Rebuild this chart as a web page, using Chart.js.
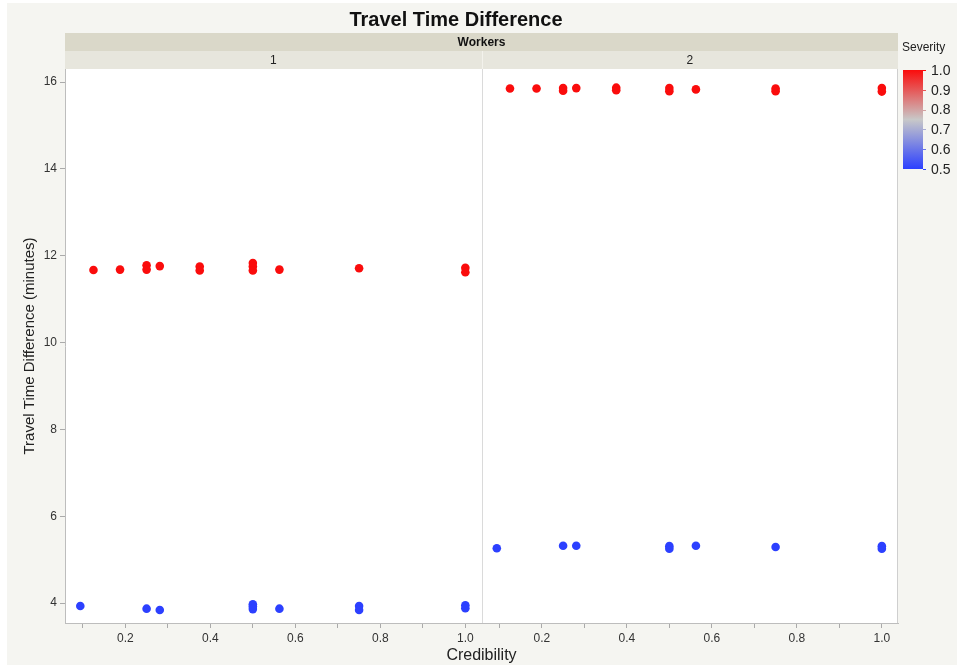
<!DOCTYPE html>
<html>
<head>
<meta charset="utf-8">
<title>Travel Time Difference</title>
<script src="https://cdn.jsdelivr.net/npm/chart.js@4/dist/chart.umd.min.js"></script>
<style>
  html, body { margin: 0; padding: 0; background: #ffffff; }
  #frame { position: absolute; left: 7px; top: 3px; width: 950px; height: 662px; background: #f5f5f1; }
  #wrap { position: absolute; left: 0; top: 0; width: 957px; height: 665px; }
</style>
</head>
<body>
<div id="frame"></div>
<div id="wrap"><canvas id="myChart" width="957" height="665"></canvas></div>
<script>
// facet labels
var facetTitle = "Workers";
var facetNames = ["1", "2"];

// severity of each group (colour scale 0.5 .. 1.0)
var highSeverity = 1.0;
var lowSeverity = 0.5;

// Workers = 1
var w1HighX = [0.125, 0.1875, 0.25, 0.25, 0.281, 0.375, 0.375, 0.5, 0.5, 0.5, 0.5625, 0.75, 1.0, 1.0];
var w1HighY = [11.67, 11.68, 11.78, 11.68, 11.76, 11.75, 11.66, 11.83, 11.75, 11.66, 11.68, 11.71, 11.72, 11.62];
var w1LowX = [0.094, 0.25, 0.281, 0.5, 0.5, 0.5, 0.5625, 0.75, 0.75, 1.0, 1.0];
var w1LowY = [3.93, 3.87, 3.84, 3.97, 3.92, 3.86, 3.87, 3.93, 3.84, 3.95, 3.88];

// Workers = 2
var w2HighX = [0.125, 0.1875, 0.25, 0.25, 0.281, 0.375, 0.375, 0.5, 0.5, 0.5625, 0.75, 0.75, 1.0, 1.0];
var w2HighY = [15.85, 15.85, 15.86, 15.80, 15.86, 15.87, 15.81, 15.86, 15.79, 15.83, 15.85, 15.79, 15.86, 15.78];
var w2LowX = [0.094, 0.25, 0.281, 0.5, 0.5, 0.5625, 0.75, 1.0, 1.0];
var w2LowY = [5.26, 5.32, 5.32, 5.31, 5.25, 5.32, 5.29, 5.31, 5.25];

// ticks
var xTickValues = [0.1, 0.2, 0.3, 0.4, 0.5, 0.6, 0.7, 0.8, 0.9, 1.0];
var xTickLabels = ["", "0.2", "", "0.4", "", "0.6", "", "0.8", "", "1.0"];
var yTickValues = [4, 6, 8, 10, 12, 14, 16];
var legendTicks = [0.5, 0.6, 0.7, 0.8, 0.9, 1.0];

var FONT = "'Liberation Sans', Arial, Helvetica, sans-serif";
Chart.defaults.font.family = FONT;

// blue -> grey -> red colour scale
function sevColor(s) {
  var blue = [44, 64, 255], grey = [200, 200, 200], red = [250, 12, 12];
  var t = (s - 0.5) / 0.5;
  var a, b, f;
  if (t < 0.5) { a = blue; b = grey; f = t / 0.5; }
  else { a = grey; b = red; f = (t - 0.5) / 0.5; }
  var c = a.map(function (v, i) { return Math.round(v + (b[i] - v) * f); });
  return "rgb(" + c.join(",") + ")";
}

function toPoints(xs, ys) {
  return xs.map(function (x, i) { return { x: x, y: ys[i] }; });
}

function makeSet(label, axis, xs, ys, sev) {
  return {
    label: label,
    xAxisID: axis,
    yAxisID: "y",
    data: toPoints(xs, ys),
    backgroundColor: sevColor(sev),
    borderColor: sevColor(sev),
    borderWidth: 0,
    pointRadius: 4.3,
    pointHoverRadius: 4.3,
  };
}

function xScale() {
  return {
    type: "linear",
    position: "bottom",
    stack: "panels",
    stackWeight: 1,
    min: 0.058,
    max: 1.038,
    afterBuildTicks: function (s) {
      s.ticks = xTickValues.map(function (v) { return { value: v }; });
    },
    afterFit: function (s) { s.height = 42; },
    grid: { drawOnChartArea: false, tickLength: 5, color: "#aaaaaa" },
    border: { color: "#bdbdbd" },
    ticks: {
      padding: 3,
      maxRotation: 0,
      autoSkip: false,
      color: "#333333",
      font: { size: 12 },
      callback: function (value, index) { return xTickLabels[index]; },
    },
  };
}

// draws plot background, facet strips, titles and the colour legend
var facetPlugin = {
  id: "facets",
  beforeDraw: function (chart) {
    var ctx = chart.ctx, a = chart.chartArea;
    ctx.save();
    ctx.fillStyle = "#ffffff";
    ctx.fillRect(a.left, a.top, a.right - a.left, a.bottom - a.top);
    ctx.restore();
  },
  afterDraw: function (chart) {
    var ctx = chart.ctx, a = chart.chartArea;
    var x1 = chart.scales.x1, x2 = chart.scales.x2;
    ctx.save();

    // frame + panel divider
    ctx.strokeStyle = "#cfcfcf";
    ctx.lineWidth = 1;
    ctx.beginPath();
    ctx.moveTo(a.right - 0.5, a.top);
    ctx.lineTo(a.right - 0.5, a.bottom);
    ctx.stroke();
    ctx.strokeStyle = "#dadada";
    ctx.beginPath();
    ctx.moveTo(Math.round(x1.right) + 0.5, a.top);
    ctx.lineTo(Math.round(x1.right) + 0.5, a.bottom);
    ctx.stroke();

    // facet strips
    ctx.fillStyle = "#dad8c9";
    ctx.fillRect(a.left, 33, a.right - a.left, 18);
    ctx.fillStyle = "#e7e6dd";
    ctx.fillRect(a.left, 51, a.right - a.left, 18);
    ctx.strokeStyle = "#f3f2ec";
    ctx.beginPath();
    ctx.moveTo(Math.round(x1.right) + 0.5, 51);
    ctx.lineTo(Math.round(x1.right) + 0.5, 69);
    ctx.stroke();

    ctx.fillStyle = "#111111";
    ctx.textAlign = "center";
    ctx.textBaseline = "middle";
    ctx.font = "bold 12px " + FONT;
    ctx.fillText(facetTitle, (a.left + a.right) / 2, 42.5);
    ctx.font = "12px " + FONT;
    ctx.fillStyle = "#222222";
    ctx.fillText(facetNames[0], (x1.left + x1.right) / 2, 60.5);
    ctx.fillText(facetNames[1], (x2.left + x2.right) / 2, 60.5);

    // main title + x title
    ctx.fillStyle = "#111111";
    ctx.font = "bold 20px " + FONT;
    ctx.fillText("Travel Time Difference", 456, 20);
    ctx.font = "16px " + FONT;
    ctx.fillStyle = "#222222";
    ctx.fillText("Credibility", (a.left + a.right) / 2, 656);

    // colour legend
    var lx = 903, lw = 20, ltop = 70, lbot = 169;
    ctx.font = "12px " + FONT;
    ctx.textAlign = "left";
    ctx.fillStyle = "#222222";
    ctx.fillText("Severity", 902, 48);
    var g = ctx.createLinearGradient(0, ltop, 0, lbot);
    for (var i = 0; i <= 10; i++) {
      g.addColorStop(i / 10, sevColor(1.0 - i * 0.05));
    }
    ctx.fillStyle = g;
    ctx.fillRect(lx, ltop, lw, lbot - ltop);
    ctx.font = "14px " + FONT;
    legendTicks.forEach(function (v) {
      var y = lbot - (v - 0.5) / 0.5 * (lbot - ltop);
      ctx.strokeStyle = sevColor(v);
      ctx.beginPath();
      ctx.moveTo(lx + lw, Math.round(y) + 0.5);
      ctx.lineTo(lx + lw + 3, Math.round(y) + 0.5);
      ctx.stroke();
      ctx.fillStyle = "#222222";
      ctx.fillText(v.toFixed(1), 931, y + 1);
    });

    ctx.restore();
  },
};

var myChart = new Chart(document.getElementById("myChart").getContext("2d"), {
  type: "scatter",
  data: {
    datasets: [
      makeSet("Workers 1, severity 1.0", "x1", w1HighX, w1HighY, highSeverity),
      makeSet("Workers 1, severity 0.5", "x1", w1LowX, w1LowY, lowSeverity),
      makeSet("Workers 2, severity 1.0", "x2", w2HighX, w2HighY, highSeverity),
      makeSet("Workers 2, severity 0.5", "x2", w2LowX, w2LowY, lowSeverity),
    ],
  },
  options: {
    responsive: false,
    devicePixelRatio: 1,
    animation: false,
    layout: { padding: { left: 0, top: 69, right: 59, bottom: 0 } },
    plugins: { legend: { display: false }, tooltip: { enabled: false } },
    scales: {
      x1: xScale(),
      x2: xScale(),
      y: {
        type: "linear",
        position: "left",
        min: 3.54,
        max: 16.3,
        afterBuildTicks: function (s) {
          s.ticks = yTickValues.map(function (v) { return { value: v }; });
        },
        afterFit: function (s) { s.width = 65; },
        grid: { drawOnChartArea: false, tickLength: 5, color: "#aaaaaa" },
        border: { color: "#bdbdbd" },
        ticks: { padding: 3, color: "#333333", font: { size: 12 } },
        title: {
          display: true,
          text: "Travel Time Difference (minutes)",
          color: "#222222",
          font: { size: 15 },
          padding: { top: 21, bottom: 0 },
        },
      },
    },
  },
  plugins: [facetPlugin],
});
</script>
</body>
</html>
